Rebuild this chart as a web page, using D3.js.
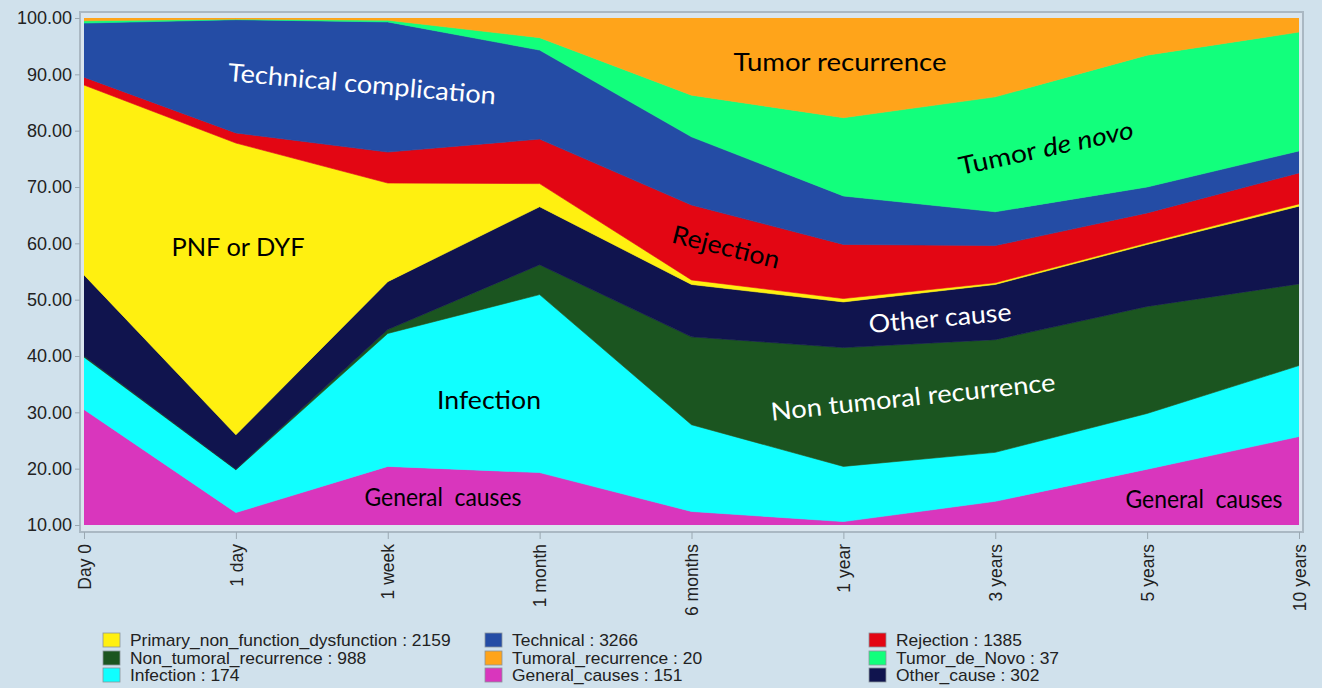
<!DOCTYPE html>
<html lang="en">
<head>
  <meta charset="UTF-8">
  <title>Causes of death after liver transplantation</title>
  <script src="https://d3js.org/d3.v7.min.js"></script>
  <style>
    body { margin: 0; background: #d0e1ec; }
    svg { display: block; font-family: "Liberation Sans", Arial, sans-serif; }
  </style>
</head>
<body>
  <div id="chart"></div>
  <script>
    // time points
    const categories = ["Day 0", "1 day", "1 week", "1 month", "6 months", "1 year", "3 years", "5 years", "10 years"];

    // share of each cause (%), bottom layer first
    const generalCauses    = [30.5, 12.2, 20.4, 19.3, 12.4, 10.6, 14.2, 19.9, 25.7];
    const infection        = [ 9.3,  7.6, 23.6, 31.6, 15.4,  9.8,  8.7,  9.9, 12.6];
    const nonTumoral       = [ 0.2,  0.1,  0.7,  5.3, 15.6, 21.1, 20.0, 19.0, 14.5];
    const otherCause       = [14.4,  6.1,  8.5, 10.3,  9.3,  8.1,  9.8, 11.0, 13.8];
    const pnf              = [33.7, 51.8, 17.5,  4.1,  0.8,  0.6,  0.3,  0.3,  0.4];
    const rejection        = [ 1.4,  1.8,  5.5,  7.9, 13.3,  9.6,  6.6,  5.3,  5.5];
    const technical        = [ 9.6, 20.1, 23.1, 15.8, 12.1,  8.6,  6.0,  4.6,  3.9];
    const tumorDeNovo      = [ 0.4,  0.1,  0.3,  2.2,  7.4, 13.9, 20.4, 23.4, 21.1];
    const tumorRecurrence  = [ 0.5,  0.2,  0.4,  3.5, 13.7, 17.7, 14.0,  6.6,  2.5];

    const yTicks = [10, 20, 30, 40, 50, 60, 70, 80, 90, 100];

    // legend (row by row, three columns)
    const legendNames  = ["Primary_non_function_dysfunction", "Technical", "Rejection",
                          "Non_tumoral_recurrence", "Tumoral_recurrence", "Tumor_de_Novo",
                          "Infection", "General_causes", "Other_cause"];
    const legendCounts = [2159, 3266, 1385, 988, 20, 37, 174, 151, 302];

    const series = [
      { key: "General_causes", values: generalCauses, color: "#d936bd" },
      { key: "Infection", values: infection, color: "#10ffff" },
      { key: "Non_tumoral_recurrence", values: nonTumoral, color: "#1b5520" },
      { key: "Other_cause", values: otherCause, color: "#10144e" },
      { key: "Primary_non_function_dysfunction", values: pnf, color: "#fff010" },
      { key: "Rejection", values: rejection, color: "#e30613" },
      { key: "Technical", values: technical, color: "#244ca5" },
      { key: "Tumor_de_Novo", values: tumorDeNovo, color: "#12ff7c" },
      { key: "Tumoral_recurrence", values: tumorRecurrence, color: "#ffa41a" }
    ];
    const colorOf = Object.fromEntries(series.map(s => [s.key, s.color]));

    const rows = categories.map((c, i) => {
      const r = { cat: c };
      series.forEach(s => r[s.key] = s.values[i]);
      return r;
    });

    const W = 1322, H = 688;
    const plot = { left: 84, right: 1299, top: 18, bottom: 525 };

    const svg = d3.select("#chart").append("svg")
      .attr("width", W).attr("height", H);

    const x = d3.scalePoint().domain(categories).range([plot.left, plot.right]);
    const y = d3.scaleLinear().domain([10, 100]).range([plot.bottom, plot.top]);

    // frame
    svg.append("rect")
      .attr("x", 80).attr("y", 12).attr("width", 1223).attr("height", 520)
      .attr("fill", "#d9e5ee").attr("stroke", "#aab8c3").attr("stroke-width", 2);

    svg.append("clipPath").attr("id", "clip")
      .append("rect")
      .attr("x", plot.left).attr("y", plot.top)
      .attr("width", plot.right - plot.left).attr("height", plot.bottom - plot.top);

    const stack = d3.stack().keys(series.map(s => s.key));
    const layers = stack(rows);

    const area = d3.area()
      .x(d => x(d.data.cat))
      .y0(d => y(d[0]))
      .y1(d => y(d[1]));

    svg.append("g").attr("clip-path", "url(#clip)")
      .selectAll("path")
      .data(layers)
      .join("path")
      .attr("fill", d => colorOf[d.key])
      .attr("stroke", d => colorOf[d.key])
      .attr("stroke-width", 0.6)
      .attr("d", area);

    // axes
    const yAxis = svg.append("g")
      .attr("transform", "translate(80,0)")
      .call(d3.axisLeft(y).tickValues(yTicks).tickFormat(d3.format(".2f")).tickSize(5).tickPadding(3));
    yAxis.select(".domain").remove();
    yAxis.selectAll("line").attr("stroke", "#9aa8b2");
    yAxis.selectAll("text").attr("font-size", 18).attr("fill", "#222")
      .attr("font-family", "'Liberation Sans', Arial, sans-serif");

    const xAxis = svg.append("g")
      .attr("transform", "translate(0,532)")
      .call(d3.axisBottom(x).tickSize(7).tickPadding(4));
    xAxis.select(".domain").remove();
    xAxis.selectAll("line").attr("stroke", "#9aa8b2");
    xAxis.selectAll("text")
      .attr("font-size", 17.5).attr("fill", "#222")
      .attr("font-family", "'Liberation Sans', Arial, sans-serif")
      .attr("text-anchor", "end")
      .attr("dy", "0.35em")
      .attr("transform", "translate(0,12) rotate(-90)")
      .attr("x", 0).attr("y", 0);

    // labels inside the areas
    const labels = [
      { text: "Technical complication", x: 362, y: 84, rot: 5, fill: "#fff", len: 269 },
      { text: "Tumor recurrence", x: 840, y: 62, rot: 0, fill: "#000", len: 213 },
      { text: "PNF or DYF", x: 238, y: 247, rot: 0, fill: "#000", len: 133 },
      { text: "Rejection", x: 726, y: 247, rot: 14, fill: "#000", len: 110 },
      { text: "Other cause", x: 940, y: 318, rot: -5, fill: "#fff", len: 143 },
      { text: "Infection", x: 489, y: 400, rot: 0, fill: "#000", len: 104 },
      { text: "Non tumoral recurrence", x: 913, y: 397, rot: -6, fill: "#fff", len: 286 },
      { text: "General  causes", x: 443, y: 497, rot: 0, fill: "#000", len: 157 },
      { text: "General  causes", x: 1204, y: 499, rot: 0, fill: "#000", len: 157 }
    ];

    svg.append("g").selectAll("text")
      .data(labels)
      .join("text")
      .attr("transform", d => `translate(${d.x},${d.y}) rotate(${d.rot})`)
      .attr("text-anchor", "middle")
      .attr("dy", "0.35em")
      .attr("font-family", "Lato, 'Open Sans', sans-serif")
      .attr("font-size", 25)
      .attr("fill", d => d.fill)
      .attr("textLength", d => d.len)
      .attr("lengthAdjust", "spacingAndGlyphs")
      .style("white-space", "pre")
      .text(d => d.text);

    const novo = svg.append("text")
      .attr("transform", "translate(1046,148) rotate(-12)")
      .attr("text-anchor", "middle")
      .attr("dy", "0.35em")
      .attr("font-family", "Lato, 'Open Sans', sans-serif")
      .attr("font-size", 25)
      .attr("fill", "#000")
      .attr("textLength", 178)
      .attr("lengthAdjust", "spacingAndGlyphs");
    novo.append("tspan").text("Tumor ");
    novo.append("tspan").attr("font-style", "italic").text("de novo");

    // legend
    const colX = [103, 485, 869];
    const rowY = [640, 658, 675];
    const leg = svg.append("g").selectAll("g")
      .data(legendNames)
      .join("g")
      .attr("transform", (d, i) => `translate(${colX[i % 3]},${rowY[Math.floor(i / 3)]})`);
    leg.append("rect")
      .attr("x", 0).attr("y", -7).attr("width", 17).attr("height", 14)
      .attr("fill", d => colorOf[d])
      .attr("stroke", "#8a959c").attr("stroke-width", 0.8);
    leg.append("text")
      .attr("transform", "translate(27,0) scale(1.09,1)")
      .attr("dy", "0.35em")
      .attr("font-size", 16).attr("fill", "#222")
      .text((d, i) => `${d} : ${legendCounts[i]}`);
  </script>
</body>
</html>
